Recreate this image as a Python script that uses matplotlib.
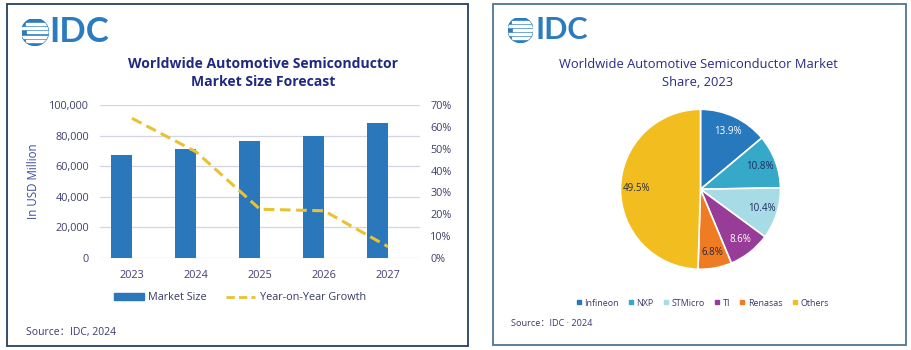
import matplotlib
matplotlib.use("Agg")
import matplotlib.pyplot as plt
from matplotlib.patches import Rectangle, Circle, Patch
from matplotlib.lines import Line2D
from matplotlib.ticker import FuncFormatter, PercentFormatter

# ---------------- data ----------------
years = ["2023", "2024", "2025", "2026", "2027"]
market_size = [67000, 71200, 76500, 79900, 88000]
yoy_growth = [0.639, 0.486, 0.223, 0.216, 0.052]

vendors = ["Infineon", "NXP", "STMicro", "TI", "Renasas", "Others"]
shares = [13.9, 10.8, 10.4, 8.6, 6.8, 49.5]

# ---------------- style ----------------
W, H = 911, 350
FONT = ["Open Sans", "Noto Sans CJK SC", "DejaVu Sans"]
plt.rcParams["font.family"] = FONT
LOGO_BLUE = "#2b7bc0"
BAR_BLUE = "#2a78bb"
LINE_YEL = "#e9c232"
NAVY = "#1f2a80"
TICK_C = "#3f3f6e"
GRID_C = "#d3d6e2"
pie_colors = ["#2878bd", "#36a8c8", "#a7dbe6", "#973c97", "#ef7b22", "#f2bd1e"]
pie_text_colors = ["white", "#1f2a60", "#1f2a60", "white", "#2a2a40", "#2a2a40"]


def fx(x):
    return x / W


def fy(y):
    return 1 - y / H


fig = plt.figure(figsize=(W / 100, H / 100), dpi=100)
fig.patch.set_facecolor("white")

# panel borders
for (x0, y0, x1, y1, col) in [(7, 4, 468, 346, "#26405a"), (493, 4, 906, 345, "#4f7592")]:
    fig.patches.append(Rectangle((fx(x0), fy(y1)), fx(x1 - x0), (y1 - y0) / H,
                                 transform=fig.transFigure, fill=False,
                                 edgecolor=col, linewidth=1.3))


# logos
def draw_logo(cx, cy, r, tx, ty, size):
    ax = fig.add_axes([fx(cx - r), fy(cy + r), 2 * r / W, 2 * r / H])
    ax.set_xlim(-1, 1)
    ax.set_ylim(-1, 1)
    ax.axis("off")
    circ = Circle((0, 0), 1, color=LOGO_BLUE)
    ax.add_patch(circ)
    for yy, x0 in [(0.62, -0.7), (0.3, -1.0), (-0.02, -0.6), (-0.34, -1.0), (-0.66, -0.7)]:
        rect = Rectangle((x0, yy - 0.07), 2.2, 0.14, color="white")
        ax.add_patch(rect)
        rect.set_clip_path(circ)
    fig.text(fx(tx), fy(ty), "IDC", fontsize=size, fontweight="bold",
             color=LOGO_BLUE, ha="left", va="center", family=["Lato"])


draw_logo(35, 32, 13.5, 49, 32, 25)
draw_logo(520.5, 30, 12.5, 535, 30, 22)

# ---------------- left: bar + line ----------------
ax = fig.add_axes([fx(100), fy(258), fx(420) - fx(100), (258 - 105) / H])
x = list(range(len(years)))
ax.bar(x, market_size, width=-0.33, align="edge", color=BAR_BLUE, zorder=3)
ax.set_xlim(-0.5, len(years) - 0.5)
ax.set_ylim(0, 100000)
ax.set_yticks(range(0, 100001, 20000))
ax.yaxis.set_major_formatter(FuncFormatter(lambda v, p: f"{int(v):,}"))
ax.set_xticks(x)
ax.set_xticklabels(years)
ax.grid(axis="y", color=GRID_C, linewidth=0.9, zorder=0)
for s in ax.spines.values():
    s.set_visible(False)
ax.tick_params(length=0, labelsize=7.8, colors=TICK_C)
ax.tick_params(axis="y", pad=8)
ax.tick_params(axis="x", pad=9)
ax.set_ylabel("In USD Million", fontsize=8.3, color="#3b4a9a")
ax.yaxis.set_label_coords((40 - 100) / 320, 0.5)

ax2 = ax.twinx()
ax2.plot(x, yoy_growth, color=LINE_YEL, linewidth=2.2, dashes=(3.5, 1.8), zorder=4)
ax2.set_ylim(0, 0.7)
ax2.set_yticks([i / 10 for i in range(8)])
ax2.yaxis.set_major_formatter(PercentFormatter(1.0, decimals=0))
for s in ax2.spines.values():
    s.set_visible(False)
ax2.tick_params(length=0, labelsize=7.8, colors=TICK_C, pad=7.5)

fig.text(fx(263), fy(64), "Worldwide Automotive Semiconductor", ha="center", va="center",
         fontsize=10.1, fontweight="bold", color=NAVY)
fig.text(fx(263), fy(82), "Market Size Forecast", ha="center", va="center",
         fontsize=10.1, fontweight="bold", color=NAVY)

handles = [Patch(color=BAR_BLUE),
           Line2D([], [], color=LINE_YEL, linewidth=2, dashes=(3, 1.5))]
leg = fig.legend(handles, ["Market Size", "Year-on-Year Growth"], loc="center",
                 bbox_to_anchor=(fx(240), fy(298)), ncol=2, frameon=False,
                 fontsize=7.8, handlelength=2.7, handleheight=0.55,
                 columnspacing=1.8, handletextpad=0.4)
for t in leg.get_texts():
    t.set_color("#3a3a6a")

fig.text(fx(26), fy(332), "Source：IDC, 2024", ha="left", va="center",
         fontsize=7.5, color="#3a3a6a")

# ---------------- right: pie ----------------
R = 80
pax = fig.add_axes([fx(700.5 - R), fy(189.3 + R), 2 * R / W, 2 * R / H])
wedges, texts, autotexts = pax.pie(
    shares, colors=pie_colors, startangle=90, counterclock=False,
    autopct=lambda p: f"{p:.1f}%", pctdistance=0.8,
    wedgeprops=dict(edgecolor="white", linewidth=1.2),
    textprops=dict(fontsize=7))
for t, c in zip(autotexts, pie_text_colors):
    t.set_color(c)
pax.set_xlim(-1, 1)
pax.set_ylim(-1, 1)
pax.set_aspect("equal")

fig.text(fx(698), fy(65), "Worldwide Automotive Semiconductor Market", ha="center",
         va="center", fontsize=9.3, color="#2a2a85")
fig.text(fx(698), fy(83), "Share, 2023", ha="center", va="center",
         fontsize=9.3, color="#2a2a85")

lh = [Line2D([], [], marker="s", linestyle="none", markersize=3.2,
             color=c) for c in pie_colors]
leg2 = fig.legend(lh, vendors, loc="center", bbox_to_anchor=(fx(702), fy(303)),
                  ncol=6, frameon=False, fontsize=6.4, handlelength=0.7,
                  handletextpad=0.25, columnspacing=1.05)
for t in leg2.get_texts():
    t.set_color("#3a3a6a")

fig.text(fx(511), fy(323), "Source：IDC · 2024", ha="left", va="center",
         fontsize=6.6, color="#3a3a6a")

fig.savefig("out.png", dpi=100)
